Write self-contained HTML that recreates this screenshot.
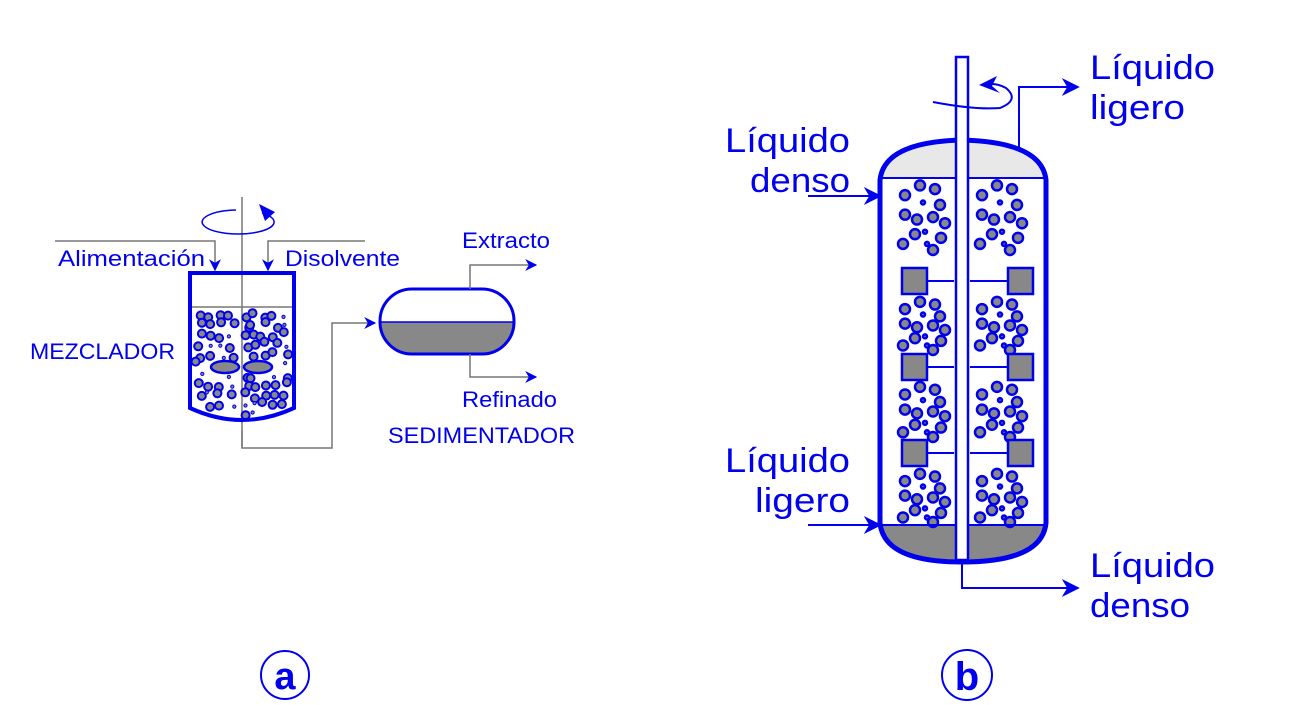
<!DOCTYPE html>
<html><head><meta charset="utf-8"><style>
html,body{margin:0;padding:0;background:#fff;}
svg{display:block;}
text{font-family:"Liberation Sans",sans-serif;fill:#0000ee;}
</style></head><body>
<svg id="s" width="1309" height="705" viewBox="0 0 1309 705" xmlns="http://www.w3.org/2000/svg">
<defs>
<marker id="ah" viewBox="0 0 10 10" refX="9" refY="5" markerWidth="13" markerHeight="12" orient="auto" markerUnits="userSpaceOnUse"><path d="M0,0 L10,5 L0,10 L3,5z" fill="#0000ee"/></marker>
<marker id="ab" viewBox="0 0 10 10" refX="9" refY="5" markerWidth="22" markerHeight="18" orient="auto" markerUnits="userSpaceOnUse"><path d="M0,0 L10,5 L0,10 L3,5z" fill="#0000ee"/></marker>
</defs>
<line x1="242" y1="197" x2="242" y2="448" stroke="#777" stroke-width="1.5"/>
<path d="M262,213 A36,12 0 1 1 236,210" fill="none" stroke="#0000ee" stroke-width="1.5"/>
<path d="M259,204 L275,212 L265,221z" fill="#0000ee"/>
<polyline points="55,241 215,241 215,270" fill="none" stroke="#777" stroke-width="1.5" marker-end="url(#ah)"/>
<polyline points="365,241 268,241 268,270" fill="none" stroke="#777" stroke-width="1.5" marker-end="url(#ah)"/>
<g font-size="22">
<text x="58" y="266" textLength="147" lengthAdjust="spacingAndGlyphs">Alimentación</text>
<text x="285" y="266" textLength="115" lengthAdjust="spacingAndGlyphs">Disolvente</text>
<text x="30" y="359" textLength="145" lengthAdjust="spacingAndGlyphs">MEZCLADOR</text>
<text x="462" y="248" textLength="88" lengthAdjust="spacingAndGlyphs">Extracto</text>
<text x="462" y="407" textLength="95" lengthAdjust="spacingAndGlyphs">Refinado</text>
<text x="388" y="443" textLength="187" lengthAdjust="spacingAndGlyphs">SEDIMENTADOR</text>
</g>
<line x1="192" y1="307" x2="292" y2="307" stroke="#777" stroke-width="1.5"/>
<g id="mixb"></g>
<ellipse cx="225" cy="367" rx="14" ry="6" fill="#888" stroke="#0000ee" stroke-width="2.5"/>
<ellipse cx="258" cy="367" rx="14" ry="6" fill="#888" stroke="#0000ee" stroke-width="2.5"/>
<path d="M190,273 L294,273 L294,408 Q242,432 190,408 Z" fill="none" stroke="#0000ee" stroke-width="4"/>
<polyline points="242,430 242,448 332,448 332,323 375,323" fill="none" stroke="#777" stroke-width="1.5" marker-end="url(#ah)"/>
<path d="M380,322 L514,322 A32,32 0 0 1 482,354 L412,354 A32,32 0 0 1 380,322z" fill="#888"/>
<rect x="380" y="289" width="134" height="65" rx="32" fill="none" stroke="#0000ee" stroke-width="3"/>
<line x1="381" y1="322" x2="513" y2="322" stroke="#0000ee" stroke-width="1.5"/>
<polyline points="470,289 470,265 536,265" fill="none" stroke="#777" stroke-width="1.5" marker-end="url(#ah)"/>
<polyline points="470,354 470,377 536,377" fill="none" stroke="#777" stroke-width="1.5" marker-end="url(#ah)"/>
<circle cx="285" cy="675" r="24" fill="none" stroke="#0000ee" stroke-width="2"/>
<text x="285" y="689" font-size="38" font-weight="bold" text-anchor="middle">a</text>
<path d="M882,178 Q890,142 962,141 Q1036,142 1044,178z" fill="#e8e8e8"/>
<path d="M882,525 L1044,525 Q1038,560 962,561 Q888,560 882,525z" fill="#888"/>
<g id="colb"></g>
<path d="M880,180 Q884,142 962,140 Q1042,142 1046,180 L1046,523 Q1042,562 962,562 Q884,562 880,523 Z" fill="none" stroke="#0000ee" stroke-width="5"/>
<line x1="882" y1="178" x2="1044" y2="178" stroke="#0000ee" stroke-width="2"/>
<line x1="882" y1="525" x2="1044" y2="525" stroke="#0000ee" stroke-width="2"/>
<g fill="#888" stroke="#0000ee" stroke-width="2.5">
<rect x="902" y="268" width="25" height="26"/><rect x="1008" y="268" width="25" height="26"/>
<rect x="902" y="354" width="25" height="26"/><rect x="1008" y="354" width="25" height="26"/>
<rect x="902" y="440" width="25" height="26"/><rect x="1008" y="440" width="25" height="26"/>
</g>
<g stroke="#0000ee" stroke-width="2">
<line x1="927" y1="281" x2="954" y2="281"/><line x1="970" y1="281" x2="1008" y2="281"/>
<line x1="927" y1="367" x2="954" y2="367"/><line x1="970" y1="367" x2="1008" y2="367"/>
<line x1="927" y1="453" x2="954" y2="453"/><line x1="970" y1="453" x2="1008" y2="453"/>
</g>
<rect x="956" y="57" width="12" height="503" fill="#fff" stroke="#0000ee" stroke-width="2.5"/>
<path d="M933,102 Q975,110 1000,108 Q1020,100 1006,88 Q995,82 985,85" fill="none" stroke="#0000ee" stroke-width="2"/>
<path d="M979,85 L997,76 L992,86 L1000,93z" fill="#0000ee"/>
<polyline points="1019,150 1019,87 1078,87" fill="none" stroke="#0000ee" stroke-width="2" marker-end="url(#ab)"/>
<polyline points="962,562 962,588 1078,588" fill="none" stroke="#0000ee" stroke-width="2" marker-end="url(#ab)"/>
<line x1="808" y1="196" x2="880" y2="196" stroke="#0000ee" stroke-width="2" marker-end="url(#ab)"/>
<line x1="808" y1="525" x2="880" y2="525" stroke="#0000ee" stroke-width="2" marker-end="url(#ab)"/>
<g font-size="34">
<text x="725" y="152" textLength="125" lengthAdjust="spacingAndGlyphs">Líquido</text>
<text x="750" y="192" textLength="100" lengthAdjust="spacingAndGlyphs">denso</text>
<text x="1090" y="79" textLength="125" lengthAdjust="spacingAndGlyphs">Líquido</text>
<text x="1090" y="119" textLength="95" lengthAdjust="spacingAndGlyphs">ligero</text>
<text x="725" y="472" textLength="125" lengthAdjust="spacingAndGlyphs">Líquido</text>
<text x="755" y="512" textLength="95" lengthAdjust="spacingAndGlyphs">ligero</text>
<text x="1090" y="577" textLength="125" lengthAdjust="spacingAndGlyphs">Líquido</text>
<text x="1090" y="617" textLength="100" lengthAdjust="spacingAndGlyphs">denso</text>
</g>
<circle cx="967" cy="675" r="25" fill="none" stroke="#0000ee" stroke-width="2"/>
<text x="967" y="690" font-size="40" font-weight="bold" text-anchor="middle">b</text>
</svg>
<script>
(function(){
var ns="http://www.w3.org/2000/svg",k=0;
function r(){k++;var v=Math.sin(k*12.9898+78.233)*43758.5453;return v-Math.floor(v);}
function c(g,x,y,rad,sw){var e=document.createElementNS(ns,"circle");e.setAttribute("cx",x);e.setAttribute("cy",y);e.setAttribute("r",rad);e.setAttribute("fill","#888");e.setAttribute("stroke","#0000ee");e.setAttribute("stroke-width",sw);g.appendChild(e);}
var m=document.getElementById("mixb");
for(var row=0;row<11;row++){for(var col=0;col<9;col++){
var x=199+col*10.8+(r()-0.5)*7,y=315+row*10+(r()-0.5)*7;
var dx=Math.abs(x-242);var bottom=408+(1-dx/52)*16-6;
if(y>bottom)continue;
if(Math.abs(y-367)<9&&x>208&&x<275)continue;
if(Math.abs(x-242)<3)x+=5;
var small=r()<0.25;
c(m,x.toFixed(1),y.toFixed(1),small?1.6:4,small?1:2);}}
var g=document.getElementById("colb");
var secs=[[183,250],[300,350],[385,437],[472,522]];
var pat=[[0,10],[15,2],[30,5],[35,18],[18,16],[0,26],[12,30],[28,28],[40,33],[20,40],[36,45],[28,55],[10,42],[-2,50],[22,50]];
secs.forEach(function(s){[905,982].forEach(function(bx){pat.forEach(function(p,i){var y=s[0]+p[1]*(s[1]-s[0])/55;c(g,bx+p[0],y,(i%5==4)?2:5,2.5);});});});
})();
</script>
</body></html>
